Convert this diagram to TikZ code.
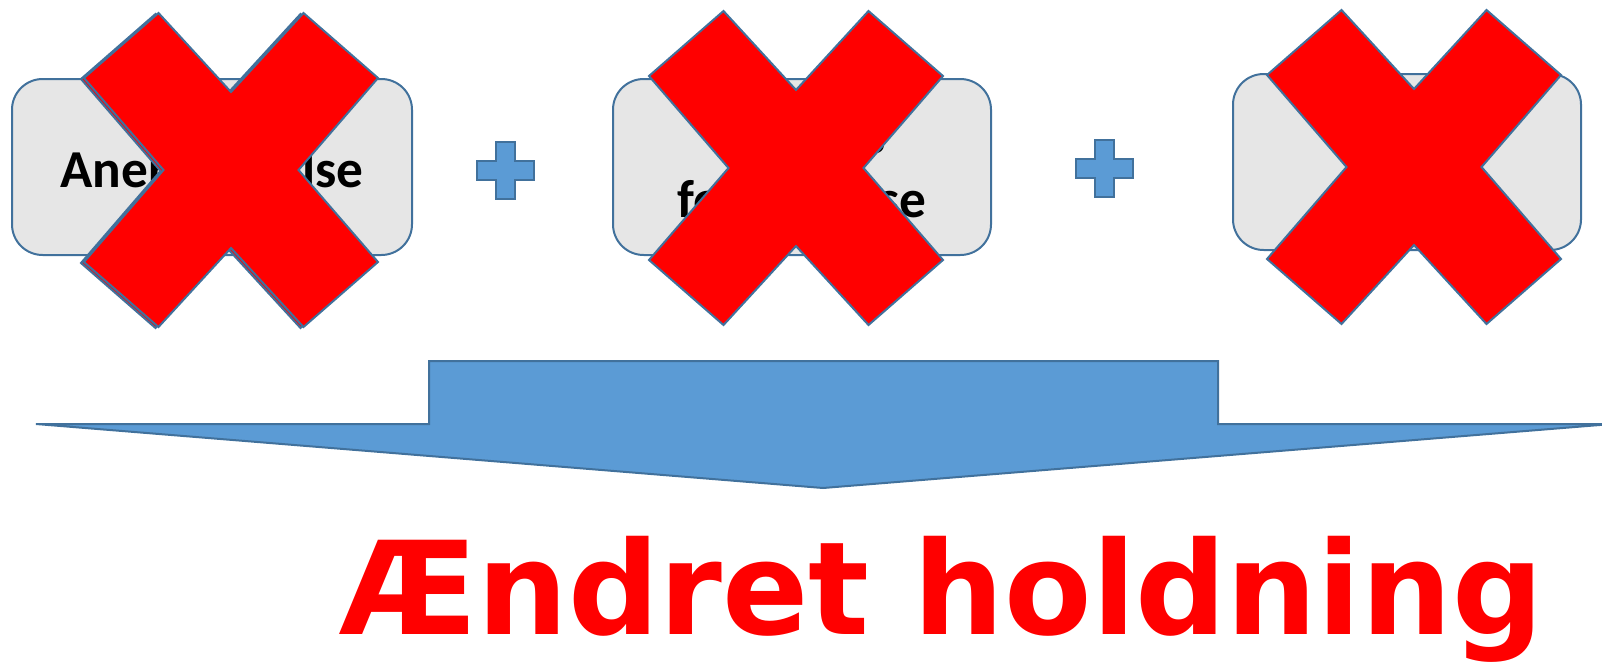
\documentclass[tikz,border=0pt]{standalone}
\usepackage{fontspec}
\newfontfamily\carlito{Carlito}
\newfontfamily\dejavu{DejaVu Sans}
\definecolor{boxfill}{HTML}{E6E6E6}
\definecolor{edge}{HTML}{41719C}
\definecolor{blue1}{HTML}{5B9BD5}
\definecolor{xred}{HTML}{FF0000}
\tikzset{
  card/.style={draw=edge, fill=boxfill, line width=1.5pt, rounded corners=23pt, inner sep=0pt},
  cardtext/.style={font=\carlito\bfseries\fontsize{40}{48}\selectfont, inner sep=0pt, align=center},
  xshape/.style={draw=edge, fill=xred, line width=1.5pt, line join=miter},
  plusshape/.style={draw=edge, fill=blue1, line width=1.5pt},
  bigarrow/.style={draw=edge, fill=blue1, line width=1.5pt, line join=miter},
  redx/.pic={\path[xshape] (-72.5,-157) -- (0,-78) -- (72.5,-157) -- (147,-92) -- (67.5,0) -- (147,92) -- (72.5,157) -- (0,78) -- (-72.5,157) -- (-147,92) -- (-67.5,0) -- (-147,-92) -- cycle;},
  plus/.pic={\path[plusshape] (-9.5,-28.5) -- (9.5,-28.5) -- (9.5,-9.5) -- (28.5,-9.5) -- (28.5,9.5) -- (9.5,9.5) -- (9.5,28.5) -- (-9.5,28.5) -- (-9.5,9.5) -- (-28.5,9.5) -- (-28.5,-9.5) -- (-9.5,-9.5) -- cycle;}
}
\begin{document}
\begin{tikzpicture}[x=0.75pt,y=-0.75pt]
\useasboundingbox (0,0) rectangle (1602,661);
% boxes
\node[card, minimum width=300pt, minimum height=132pt] (b1) at (212,167) {};
\node[card, minimum width=283.5pt, minimum height=132pt] (b2) at (802,167) {};
\node[card, minimum width=261pt, minimum height=132pt] (b3) at (1407,162) {};
\node[cardtext, anchor=base] (t1) at (212,187) {Anerkendelse};
\node[cardtext, anchor=base] (t2a) at (802,153) {Elevens};
\node[cardtext, anchor=base] (t2b) at (802,217) {forpligtelse};
% plus signs
\pic at (505,170) {plus};
\pic at (1104,168) {plus};
% red crosses
\pic at (228,171) {redx};
\pic at (231,170) {redx};
\pic at (796,168) {redx};
\pic at (1414,167) {redx};
% big arrow
\path[bigarrow] (429,361) -- (1218,361) -- (1218,424) -- (1612,424) -- (823,488) -- (36,424) -- (429,424) -- cycle;
% result text
\node[anchor=base west, inner sep=0pt, xscale=0.985, text=xred, font=\dejavu\bfseries\fontsize{97}{110}\selectfont] (res) at (339,634) {Ændret holdning};
\end{tikzpicture}
\end{document}
